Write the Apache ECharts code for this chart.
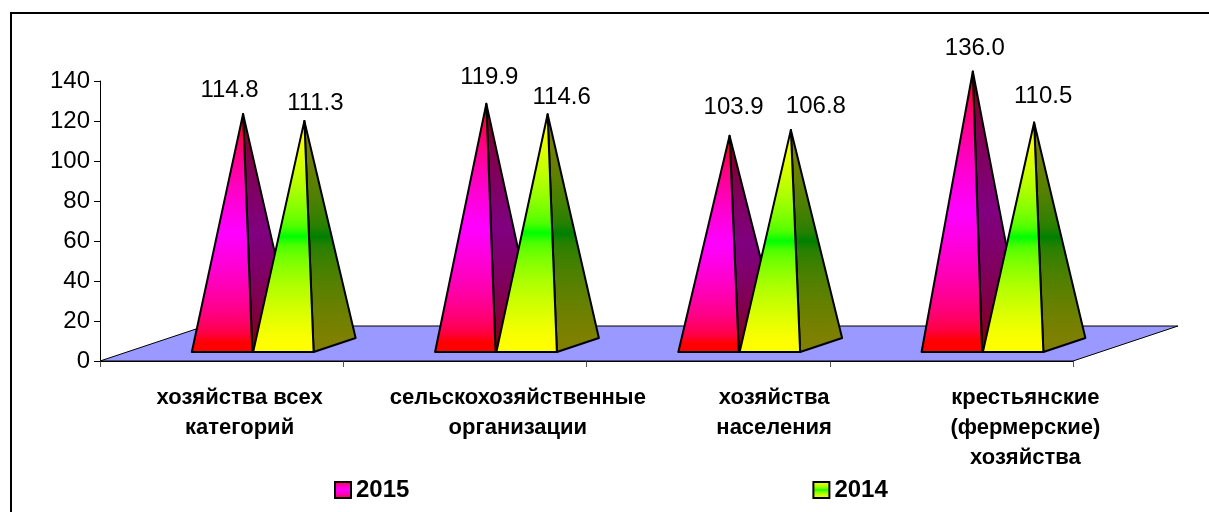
<!DOCTYPE html>
<html><head><meta charset="utf-8">
<style>html,body{margin:0;padding:0;background:#fff}#c{width:1209px;height:512px}</style>
<script src="https://cdn.jsdelivr.net/npm/echarts@6/dist/echarts.min.js"></script>
</head><body><div id="c"></div>
<script>
const categories = ['хозяйства всех\nкатегорий','сельскохозяйственные\nорганизации','хозяйства\nнаселения','крестьянские\n(фермерские)\nхозяйства'];
const values2015 = [114.8,119.9,103.9,136.0];
const values2014 = [111.3,114.6,106.8,110.5];
const yTicks = {min:0,max:140,interval:20};

// layout only: hand placement of labels, as in the source chart
const labelNudge2015 = [[-13.5,-24],[3,-26],[4,-28],[2,-23]];
const labelNudge2014 = [[11,-18],[14,-17],[25,-24],[9,-26]];
const catLabelShift = [18,53,66,74];

const DX=105, DY=35;
const FONT='"Liberation Sans",Arial,sans-serif';
// edge-centre-edge gradient interpolated in linear light, like the source
function hex(c){return [1,3,5].map(k=>parseInt(c.substr(k,2),16));}
function mix(a,b,t){const A=hex(a),B=hex(b);return 'rgb('+A.map((x,i)=>Math.round(Math.sqrt(x*x+(B[i]*B[i]-x*x)*t))).join(',')+')';}
function LG(edge,centre){
  const stops=[];const N=12;
  for(let k=0;k<=2*N;k++){const t=Math.min(1,Math.abs(k-N)/N/0.9);stops.push({offset:k/(2*N),color:mix(centre,edge,t)});}
  return new echarts.graphic.LinearGradient(0,0,0,1,stops);
}

function pyramid(colors,side,startFrac,nudge){
  return function(params,api){
    const i=api.value(0), v=api.value(1);
    const band=api.size([1,0])[0];
    const c0=api.coord([i,0]), top=api.coord([i,v]);
    const w=band*0.2487;
    const left=c0[0]+band*startFrac, yb=c0[1]-9;
    const right=left+w;
    const apex=[left+w/2+21, top[1]-17.5];
    const stroke={stroke:'#000',lineWidth:2,lineJoin:'round'};
    const n=nudge[i];
    return {type:'group',children:[
      {type:'polygon',shape:{points:[[right,yb],[right+42,yb-14],apex]},style:Object.assign({fill:LG(side[0],side[1])},stroke)},
      {type:'polygon',shape:{points:[[left,yb],[right,yb],apex]},style:Object.assign({fill:LG(colors[0],colors[1])},stroke)},
      {type:'text',style:{text:v.toFixed(1),x:apex[0]+n[0],y:apex[1]+n[1],textAlign:'center',textVerticalAlign:'middle',font:'24px '+FONT,fill:'#000'}}
    ]};
  };
}
function floor(params,api){
  const cs=params.coordSys;
  const y0=api.coord([0,0])[1], xl=cs.x, xr=cs.x+cs.width;
  return {type:'polygon',shape:{points:[[xl,y0],[xr,y0],[xr+DX,y0-DY],[xl+DX,y0-DY]]},style:{fill:'#9999FF',stroke:'#000',lineWidth:1}};
}
const catNames=categories.map((c,i)=>String(i));
const chart=echarts.init(document.getElementById('c'),null,{renderer:'canvas'});
chart.setOption({
  animation:false,backgroundColor:'#fff',
  graphic:[
    {type:'line',silent:true,shape:{x1:10,y1:13,x2:1209,y2:13},style:{stroke:'#000',lineWidth:2}},
    {type:'line',silent:true,shape:{x1:11,y1:12,x2:11,y2:512},style:{stroke:'#000',lineWidth:2}}
  ],
  grid:{left:100,top:81,width:973,height:280},
  legend:{data:['2015','2014'],padding:0,left:334,top:478,itemWidth:16,itemHeight:16,itemGap:403,icon:'rect',
    itemStyle:{borderColor:'#000',borderWidth:2},
    textStyle:{fontFamily:FONT,fontWeight:'bold',fontSize:24,color:'#000'}},
  xAxis:{type:'category',data:catNames,boundaryGap:true,
    axisLine:{lineStyle:{color:'#000',width:1}},
    axisTick:{show:true,alignWithLabel:false,length:6,lineStyle:{color:'#555'}},
    axisLabel:{interval:0,margin:22,
      formatter:(val)=>{const i=+val;return categories[i].split('\n').map(l=>'{c'+i+'|'+l+'}').join('\n');},
      rich:Object.fromEntries(catLabelShift.map((s,i)=>['c'+i,{fontFamily:FONT,fontWeight:'bold',fontSize:22,lineHeight:30,color:'#000',padding:[0,0,0,2*s]}]))}},
  yAxis:{type:'value',min:yTicks.min,max:yTicks.max,interval:yTicks.interval,splitLine:{show:false},
    axisLine:{show:true,lineStyle:{color:'#000',width:1}},
    axisTick:{show:true,length:6,lineStyle:{color:'#000'}},
    axisLabel:{margin:10,fontFamily:FONT,fontSize:24,color:'#000'}},
  series:[
    {type:'custom',name:'floor',renderItem:floor,data:[[0,0]],z:1,silent:true,clip:false,encode:{x:0,y:1}},
    {type:'custom',name:'2015',renderItem:pyramid(['#ff0000','#ff00ff'],['#800000','#800080'],-0.1225,labelNudge2015),
      data:values2015.map((v,i)=>[i,v]),z:2,clip:false,encode:{x:0,y:1},
      itemStyle:{color:LG('#ff0000','#ff00ff')}},
    {type:'custom',name:'2014',renderItem:pyramid(['#ffff00','#00ff00'],['#808000','#008000'],0.1295,labelNudge2014),
      data:values2014.map((v,i)=>[i,v]),z:3,clip:false,encode:{x:0,y:1},
      itemStyle:{color:LG('#ffff00','#00ff00')}}
  ]
});
</script></body></html>
